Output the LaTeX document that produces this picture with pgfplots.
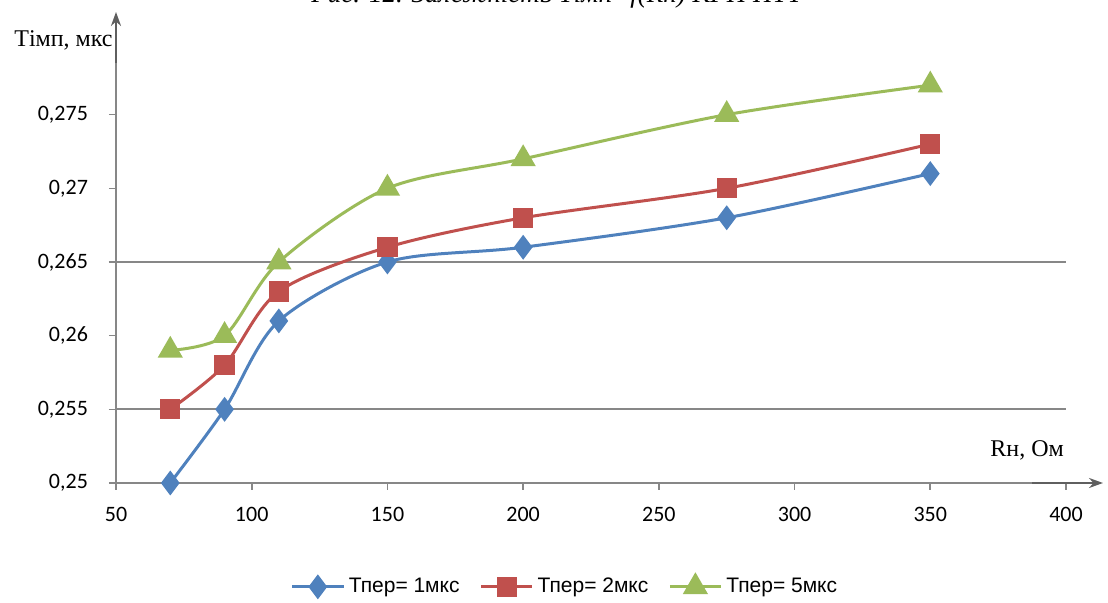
\documentclass[border=0pt]{standalone}
\usepackage{pgfplots}
\pgfplotsset{compat=1.18}
\usepackage{fontspec}
\setmainfont{Liberation Serif}
\newfontfamily\tickfont{Carlito}
\newfontfamily\legfont{Liberation Sans}
\usetikzlibrary{arrows.meta}
\definecolor{s1}{HTML}{4F81BD}
\definecolor{s2}{HTML}{C0504D}
\definecolor{s3}{HTML}{9BBB59}
\definecolor{axgray}{HTML}{878787}
\definecolor{arrgray}{HTML}{5F5F5F}

\begin{document}
\begin{tikzpicture}
\useasboundingbox (0pt,0pt) rectangle (554pt,301.5pt);
\clip (0pt,0pt) rectangle (554pt,301.5pt);
% caption line (only its lower part falls inside the page)
\node[font=\itshape\fontsize{13.5}{15}\selectfont, anchor=base, inner sep=0pt] at (278.5pt,300.3pt) {Рис. 12. Залежність Тімп=f(Rн) КРП ПТТ};
\begin{axis}[
  at={(58pt,60pt)}, anchor=south west,
  scale only axis, width=475pt, height=221pt,
  xmin=50, xmax=400, ymin=0.25, ymax=0.28,
  axis x line=bottom, axis y line=left,
  axis line style={-, axgray, line width=0.8pt},
  xtick={50,100,...,400},
  ytick={0.25,0.255,0.26,0.265,0.27,0.275},
  scaled y ticks=false,
  tick align=outside, major tick length=3.5pt,
  tick style={axgray, line width=0.8pt},
  ticklabel style={font=\tickfont\fontsize{11}{13}\selectfont},
  x tick label style={yshift=-5pt},
  /pgf/number format/assume math mode=true,
  y tick label style={xshift=-7pt, /pgf/number format/.cd, use comma, precision=3, /tikz/.cd},
  extra y ticks={0.255,0.265},
  extra y tick labels={},
  extra y tick style={grid=major, major grid style={axgray, line width=1pt}},
  clip=false,
  legend columns=3,
  legend style={at={(0.4737,-0.235)}, anchor=center, draw=none, fill=none,
    font=\legfont\fontsize{10.5}{12}\selectfont,
    /tikz/every even column/.append style={column sep=8pt}},
  legend image code/.code={\draw[mark repeat=2,mark phase=2] plot coordinates {(0pt,0pt)(12.75pt,0pt)(25.5pt,0pt)};},
]
\addplot[s1, line width=1.5pt, smooth, mark=diamond*, mark size=5pt, mark options={s1, solid}]
  coordinates {(70,0.250) (90,0.255) (110,0.261) (150,0.265) (200,0.266) (275,0.268) (350,0.271)};
\addlegendentry{Тпер= 1мкс}
\addplot[s2, line width=1.5pt, smooth, mark=square*, mark size=4.3pt, mark options={s2, solid}]
  coordinates {(70,0.255) (90,0.258) (110,0.263) (150,0.266) (200,0.268) (275,0.270) (350,0.273)};
\addlegendentry{Тпер= 2мкс}
\addplot[s3, line width=1.5pt, smooth, mark=triangle*, mark size=5.8pt, mark options={s3, solid}]
  coordinates {(70,0.259) (90,0.260) (110,0.265) (150,0.270) (200,0.272) (275,0.275) (350,0.277)};
\addlegendentry{Тпер= 5мкс}
\end{axis}
% arrow heads on the axes
\draw[axgray, line width=0.8pt] (58pt,281pt) -- (58pt,290pt);
\draw[arrgray, line width=1.2pt, -{Stealth[length=7pt,width=5pt]}] (58pt,270pt) -- (58pt,295.5pt);
\draw[arrgray, line width=1.2pt, -{Stealth[length=7pt,width=5pt]}] (516pt,60pt) -- (551.5pt,60pt);
% axis titles
\node[anchor=base east, inner sep=0pt, font=\fontsize{12}{14}\selectfont] at (56.5pt,278pt) {Тімп, мкс};
\node[anchor=base west, inner sep=0pt, font=\fontsize{12}{14}\selectfont] at (495pt,73pt) {Rн, Ом};
\end{tikzpicture}
\end{document}
